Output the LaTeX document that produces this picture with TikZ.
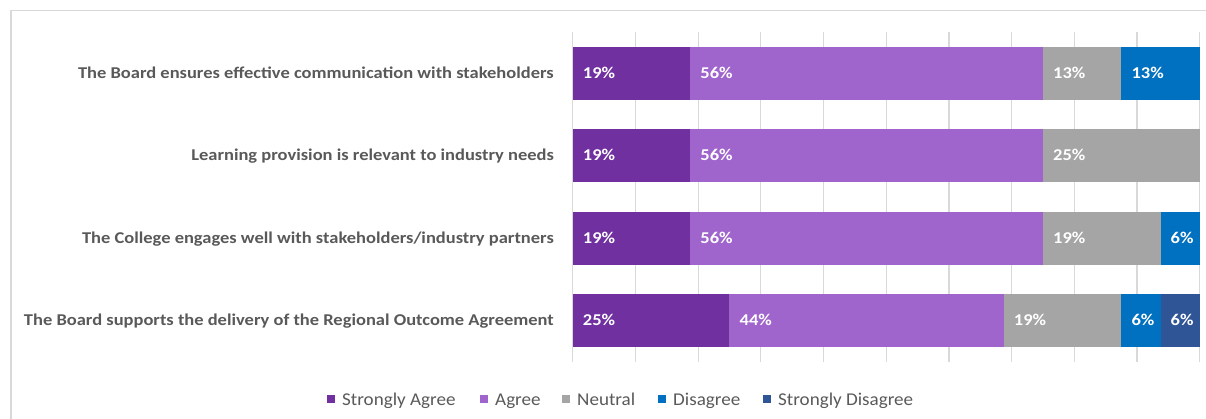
\documentclass[tikz,border=0pt]{standalone}
\usepackage{fontspec}
\setmainfont[FakeStretch=1.12]{Carlito}
\newfontfamily\legfont[FakeStretch=1.06]{Carlito}
\definecolor{csa}{HTML}{7030A0}
\definecolor{cag}{HTML}{A064CD}
\definecolor{cne}{HTML}{A5A5A5}
\definecolor{cdi}{HTML}{0070C0}
\definecolor{csd}{HTML}{2F5597}
\definecolor{cgrid}{HTML}{D9D9D9}
\definecolor{ctxt}{HTML}{595959}
\tikzset{
  segbox/.style={draw=none, minimum height=53pt, inner sep=0pt, outer sep=0pt, anchor=north west},
  pct/.style={anchor=base west, inner sep=0pt, text=white, font=\bfseries\fontsize{16.5}{16.5}\selectfont},
  cat/.style={anchor=base east, inner sep=0pt, text=ctxt, font=\bfseries\fontsize{16.5}{16.5}\selectfont},
  leg/.style={anchor=base west, inner sep=0pt, text=ctxt, font=\legfont\fontsize{18}{18}\selectfont},
  legbox/.style={minimum size=7.5pt, inner sep=0pt, outer sep=0pt},
  gridline/.style={draw=cgrid, line width=1.2pt},
  frameline/.style={draw=cgrid, line width=1.5pt}
}
\newcommand\chartseg[6]{%
  \node[segbox, fill=#5, minimum width={#4*39.1875pt}] (#1) at ({572.7+#3*39.1875}, #2) {};
  \node[pct] (#1-l) at ([xshift=10pt,yshift=-5pt]#1.west) {#6};
}
\begin{document}
\begin{tikzpicture}[x=1pt, y=-1pt]
\useasboundingbox (0,0) rectangle (1206,418);
% frame
\coordinate (fbl) at (11,420);
\coordinate (ftl) at (11,10.7);
\coordinate (ftr) at (1208,10.7);
\draw[frameline] (fbl) -- (ftl) -- (ftr);
% grid
\foreach \k in {0,...,10} {
  \coordinate (g\k t) at ({572.7+\k*62.7}, 32);
  \coordinate (g\k b) at ({572.7+\k*62.7}, 362);
  \draw[gridline] (g\k t) -- (g\k b);
}
% row 1
\chartseg{a1}{46.7}{0}{3}{csa}{19\%}
\chartseg{a2}{46.7}{3}{9}{cag}{56\%}
\chartseg{a3}{46.7}{12}{2}{cne}{13\%}
\chartseg{a4}{46.7}{14}{2}{cdi}{13\%}
\node[cat] (ca) at (554, 78.2) {The Board ensures effective communication with stakeholders};
% row 2
\chartseg{b1}{129.2}{0}{3}{csa}{19\%}
\chartseg{b2}{129.2}{3}{9}{cag}{56\%}
\chartseg{b3}{129.2}{12}{4}{cne}{25\%}
\node[cat] (cb) at (554, 160.7) {Learning provision is relevant to industry needs};
% row 3
\chartseg{c1}{211.7}{0}{3}{csa}{19\%}
\chartseg{c2}{211.7}{3}{9}{cag}{56\%}
\chartseg{c3}{211.7}{12}{3}{cne}{19\%}
\chartseg{c4}{211.7}{15}{1}{cdi}{6\%}
\node[cat] (cc) at (554, 243.2) {The College engages well with stakeholders/industry partners};
% row 4
\chartseg{d1}{294.3}{0}{4}{csa}{25\%}
\chartseg{d2}{294.3}{4}{7}{cag}{44\%}
\chartseg{d3}{294.3}{11}{3}{cne}{19\%}
\chartseg{d4}{294.3}{14}{1}{cdi}{6\%}
\chartseg{d5}{294.3}{15}{1}{csd}{6\%}
\node[cat] (cd) at (554, 325.8) {The Board supports the delivery of the Regional Outcome Agreement};
% legend
\node[legbox, fill=csa] (l1b) at (331,399) {};
\node[leg] (l1) at (342,405) {Strongly Agree};
\node[legbox, fill=cag] (l2b) at (484,399) {};
\node[leg] (l2) at (495,405) {Agree};
\node[legbox, fill=cne] (l3b) at (566,399) {};
\node[leg] (l3) at (577,405) {Neutral};
\node[legbox, fill=cdi] (l4b) at (662,399) {};
\node[leg] (l4) at (673,405) {Disagree};
\node[legbox, fill=csd] (l5b) at (767,399) {};
\node[leg] (l5) at (778,405) {Strongly Disagree};
\end{tikzpicture}
\end{document}
